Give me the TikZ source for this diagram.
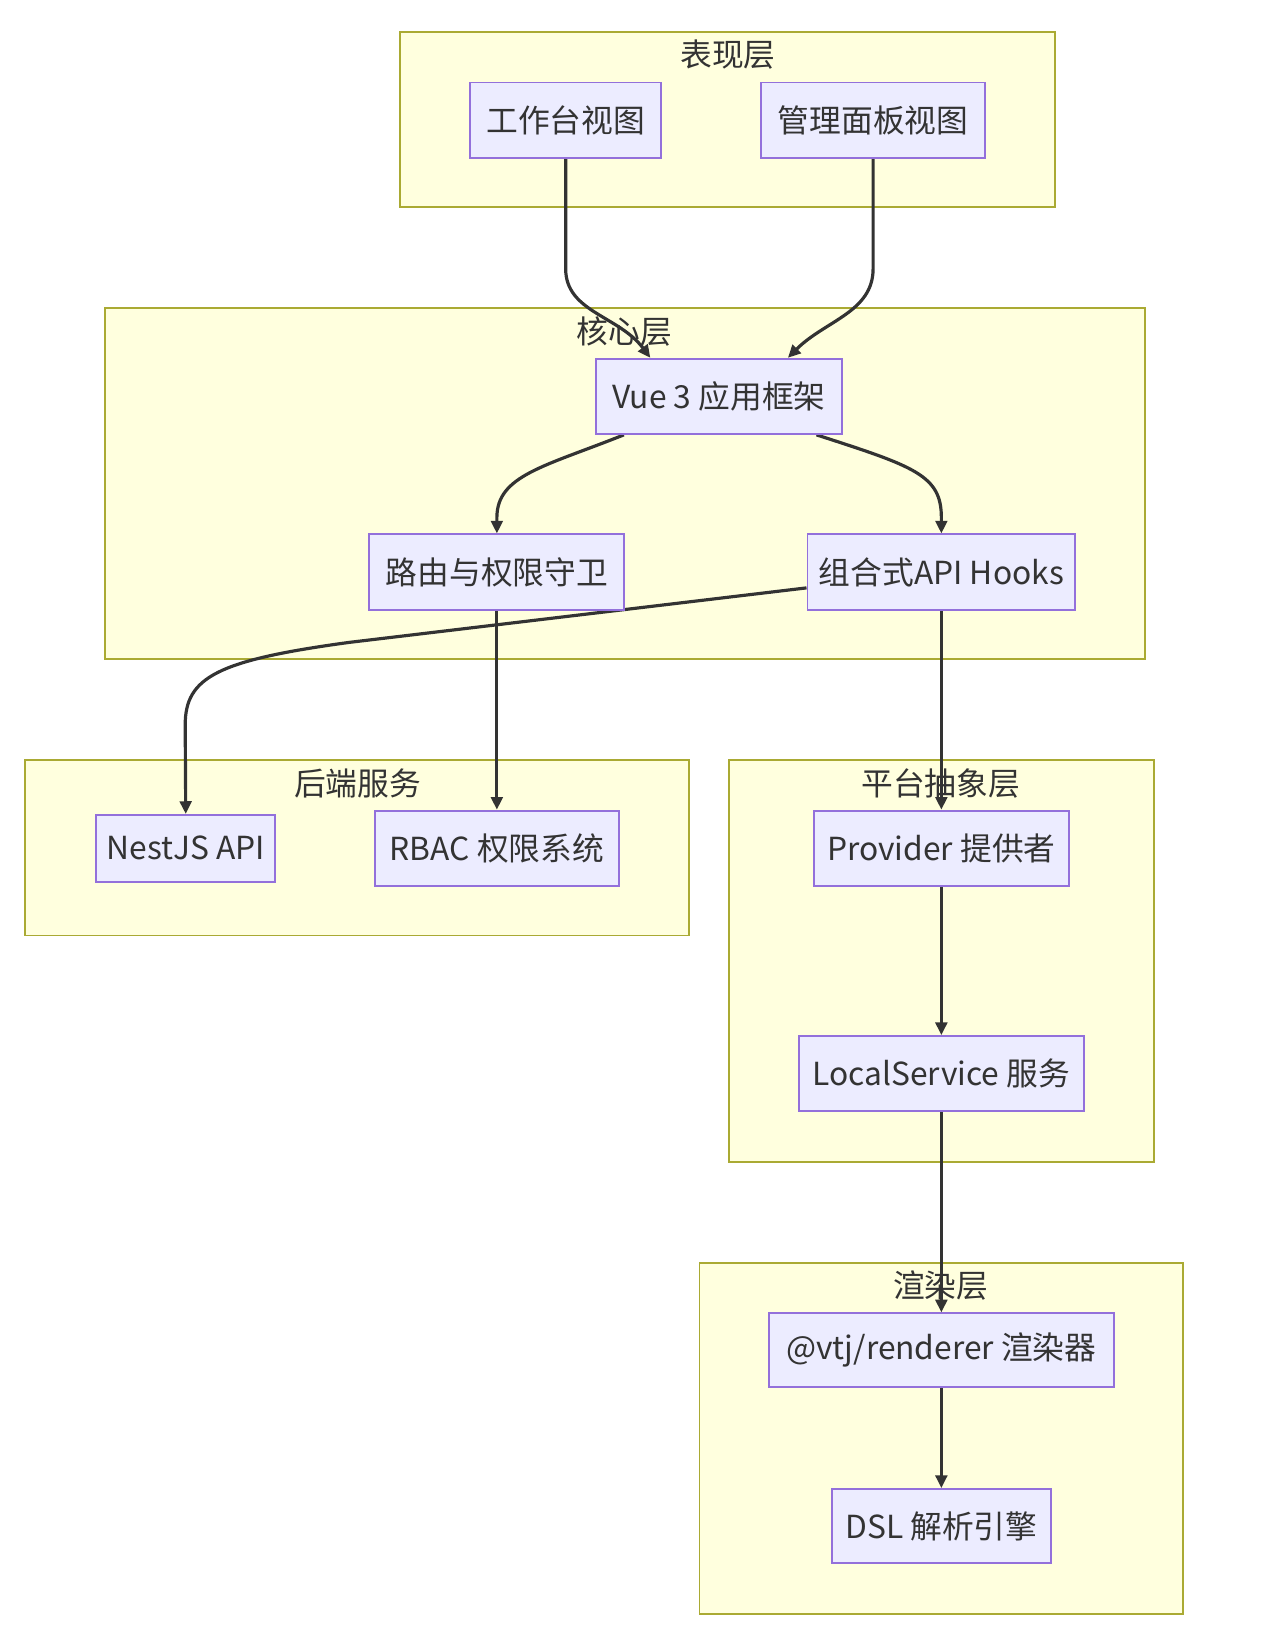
\documentclass[tikz,border=0pt]{standalone}
\usepackage{fontspec}
\setmainfont{Noto Sans CJK SC}
\usetikzlibrary{arrows.meta,calc}
\definecolor{clfill}{HTML}{FFFFDE}
\definecolor{cldraw}{HTML}{AAAA33}
\definecolor{ndfill}{HTML}{ECECFF}
\definecolor{nddraw}{HTML}{9370DB}
\definecolor{txt}{HTML}{333333}
\tikzset{
  cluster/.style={fill=clfill,draw=cldraw,line width=0.9pt},
  cltitle/.style={text=txt,font=\fontsize{15pt}{16pt}\selectfont,inner sep=0pt},
  nd/.style={rectangle,fill=ndfill,draw=nddraw,line width=0.9pt,text=txt,
    font=\fontsize{15pt}{16pt}\selectfont,inner sep=0pt},
  edge/.style={draw=txt,line width=1.5pt,-{Triangle[length=6pt,width=5.5pt]}},
}
\begin{document}
\begin{tikzpicture}[x=0.5pt,y=-0.5pt]
\useasboundingbox[fill=white] (0,0) rectangle (1208,1561);
% clusters
\draw[cluster] (378,30) rectangle (997,196);
\node[cltitle] (t1) at (688,52) {表现层};
\draw[cluster] (99,291) rectangle (1082,623);
\node[cltitle] (t2) at (590,313) {核心层};
\draw[cluster] (24,718) rectangle (651,884);
\node[cltitle] (t3) at (338,740) {后端服务};
\draw[cluster] (689,718) rectangle (1090,1098);
\node[cltitle] (t4) at (889,740) {平台抽象层};
\draw[cluster] (661,1193) rectangle (1118,1525);
\node[cltitle] (t5) at (889,1215) {渲染层};
% nodes (positions)
\path
  node[nd,minimum width=90.5pt,minimum height=35.5pt] (wb) at (534.5,113.5) {工作台视图}
  node[nd,minimum width=106pt,minimum height=35.5pt] (admin) at (825,113.5) {管理面板视图}
  node[nd,minimum width=116.5pt,minimum height=35.5pt] (vue) at (679.5,374.5) {Vue 3 应用框架}
  node[nd,minimum width=120.5pt,minimum height=35.5pt] (router) at (469.5,540.5) {路由与权限守卫}
  node[nd,minimum width=126.5pt,minimum height=35.5pt] (hooks) at (889.5,540.5) {组合式API Hooks}
  node[nd,minimum width=84.5pt,minimum height=31.5pt] (nest) at (175.5,801.5) {NestJS API}
  node[nd,minimum width=115.5pt,minimum height=35.5pt] (rbac) at (469.5,801.5) {RBAC 权限系统}
  node[nd,minimum width=120.5pt,minimum height=35.5pt] (prov) at (889.5,801.5) {Provider 提供者}
  node[nd,minimum width=134.5pt,minimum height=35.5pt] (local) at (889.5,1014.5) {LocalService 服务}
  node[nd,minimum width=163pt,minimum height=35pt] (rend) at (889.5,1276) {@vtj/renderer 渲染器}
  node[nd,minimum width=103.5pt,minimum height=35pt] (dsl) at (889.5,1442) {DSL 解析引擎};
% edges
\draw[edge] (wb.south) -- ($(wb.south)+(0,104)$) .. controls ($(wb.south)+(0,145)$) and ($(vue.north)+(-95,-40)$) .. ($(vue.north)+(-65,0)$);
\draw[edge] (admin.south) -- ($(admin.south)+(0,104)$) .. controls ($(admin.south)+(0,145)$) and ($(vue.north)+(100,-35)$) .. ($(vue.north)+(65,0)$);
\draw[edge] ($(vue.south)+(-90,0)$) .. controls ($(vue.south)+(-165,30)$) and ($(router.north)+(0,-55)$) .. ($(router.north)+(0,-15)$) -- (router.north);
\draw[edge] ($(vue.south)+(92,0)$) .. controls ($(vue.south)+(185,30)$) and ($(hooks.north)+(0,-55)$) .. ($(hooks.north)+(0,-15)$) -- (hooks.north);
\draw[edge] ($(hooks.west)+(0,15)$) -- (330,607) .. controls (205,624) and (175,640) .. (175,685) -- (nest.north);
\draw[edge] (router.south) -- (rbac.north);
\draw[edge] (hooks.south) -- (prov.north);
\draw[edge] (prov.south) -- (local.north);
\draw[edge] (local.south) -- (rend.north);
\draw[edge] (rend.south) -- (dsl.north);
% redraw upper nodes on top of edges
\path
  node[nd,minimum width=90.5pt,minimum height=35.5pt] at (wb) {工作台视图}
  node[nd,minimum width=106pt,minimum height=35.5pt] at (admin) {管理面板视图}
  node[nd,minimum width=116.5pt,minimum height=35.5pt] at (vue) {Vue 3 应用框架}
  node[nd,minimum width=120.5pt,minimum height=35.5pt] at (router) {路由与权限守卫}
  node[nd,minimum width=126.5pt,minimum height=35.5pt] at (hooks) {组合式API Hooks};
\end{tikzpicture}
\end{document}
